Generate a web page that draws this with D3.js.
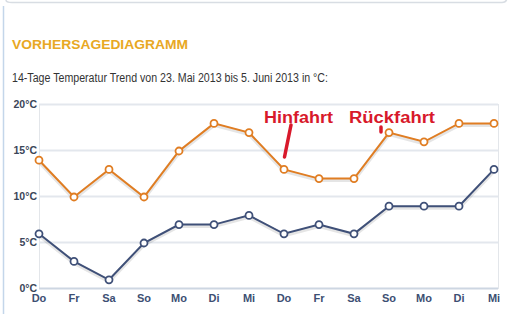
<!DOCTYPE html>
<html>
<head>
<meta charset="utf-8">
<script src="https://cdn.jsdelivr.net/npm/d3@7"></script>
<style>
  html, body { margin: 0; padding: 0; background: #fff; }
  svg { display: block; }
</style>
</head>
<body>
<div id="canvas"></div>
<script>
var days = ["Do", "Fr", "Sa", "So", "Mo", "Di", "Mi", "Do", "Fr", "Sa", "So", "Mo", "Di", "Mi"];
var maxTemps = [14, 10, 13, 10, 15, 18, 17, 13, 12, 12, 17, 16, 18, 18];
var minTemps = [6, 3, 1, 5, 7, 7, 8, 6, 7, 6, 9, 9, 9, 13];
var yTicks = [0, 5, 10, 15, 20];

var width = 512, height = 314;
var plotLeft = 39, plotRight = 494, plotTop = 105, plotBottom = 289;
var boxRight = 498;

var svg = d3.select("#canvas").append("svg").attr("width", width).attr("height", height);

// page frame
svg.append("path")
	.attr("d", "M6,0 Q6,2.5 12,2.5 L502,2.5 Q507,2.5 507,-3")
	.attr("fill", "none")
	.attr("stroke", "#d8dde3")
	.attr("stroke-width", 1.5);
svg.append("line").attr("x1", 3.5).attr("x2", 3.5).attr("y1", 6).attr("y2", height)
	.attr("stroke", "#c4d6ea").attr("stroke-width", 1.5);

svg.append("text").attr("x", 12).attr("y", 49)
	.text("VORHERSAGEDIAGRAMM")
	.attr("textLength", 176).attr("lengthAdjust", "spacingAndGlyphs")
	.style("font-family", "Liberation Sans, Arial, sans-serif")
	.style("font-weight", "bold")
	.style("font-size", "13.5px")
	.style("fill", "#e8a824");

svg.append("text").attr("x", 12).attr("y", 82)
	.text("14-Tage Temperatur Trend von 23. Mai 2013 bis 5. Juni 2013 in °C:")
	.attr("textLength", 316).attr("lengthAdjust", "spacingAndGlyphs")
	.style("font-family", "Liberation Sans, Arial, sans-serif")
	.style("font-size", "12px")
	.style("fill", "#333");

var x = d3.scalePoint().domain(d3.range(days.length)).range([plotLeft, plotRight]);
var y = d3.scaleLinear().domain([0, 20]).range([plotBottom, plotTop]);

// plot box
svg.append("rect").attr("x", plotLeft + 0.5).attr("y", plotTop - 0.5)
	.attr("width", boxRight - plotLeft).attr("height", plotBottom - plotTop)
	.attr("fill", "#fff").attr("stroke", "#e3e6ea");

svg.selectAll(".grid").data(yTicks.filter(function(d) { return d > 0; }))
	.enter().append("line")
	.attr("x1", plotLeft).attr("x2", boxRight)
	.attr("y1", function(d) { return Math.round(y(d)) - 0.5; })
	.attr("y2", function(d) { return Math.round(y(d)) - 0.5; })
	.attr("stroke", "#e3e7ed").attr("stroke-width", 2);

svg.append("line").attr("x1", plotLeft).attr("x2", boxRight)
	.attr("y1", plotBottom - 0.5).attr("y2", plotBottom - 0.5)
	.attr("stroke", "#cdd6e2").attr("stroke-width", 2);

svg.selectAll(".ylab").data(yTicks)
	.enter().append("text")
	.attr("x", 37)
	.attr("y", function(d) { return y(d) + 3; })
	.attr("text-anchor", "end")
	.text(function(d) { return d + "°C"; })
	.style("font-family", "Liberation Sans, Arial, sans-serif")
	.style("font-weight", "bold")
	.style("font-size", "10.5px")
	.style("fill", "#3b4659");

svg.selectAll(".xlab").data(days)
	.enter().append("text")
	.attr("x", function(d, i) { return x(i); })
	.attr("y", 302)
	.attr("text-anchor", "middle")
	.text(function(d) { return d; })
	.style("font-family", "Liberation Sans, Arial, sans-serif")
	.style("font-weight", "bold")
	.style("font-size", "11px")
	.style("fill", "#3d4f73");

var line = d3.line().x(function(d, i) { return x(i); }).y(function(d) { return y(d); });

var drawSeries = function(values, color) {
	svg.append("path").datum(values)
		.attr("d", line)
		.attr("transform", "translate(0,1.5)")
		.attr("fill", "none")
		.attr("stroke", "#000")
		.attr("stroke-opacity", 0.1)
		.attr("stroke-width", 4);
	svg.append("path").datum(values)
		.attr("d", line)
		.attr("fill", "none")
		.attr("stroke", color)
		.attr("stroke-width", 2);
	svg.append("g").selectAll("circle").data(values)
		.enter().append("circle")
		.attr("cx", function(d, i) { return x(i); })
		.attr("cy", function(d) { return y(d); })
		.attr("r", 3.5)
		.attr("fill", "#fff")
		.attr("stroke", color)
		.attr("stroke-width", 1.8);
};

drawSeries(maxTemps, "#e07d22");
drawSeries(minTemps, "#3f5078");

// annotations
var red = "#d8192b";
svg.append("text").attr("x", 264).attr("y", 123)
	.text("Hinfahrt")
	.attr("textLength", 69).attr("lengthAdjust", "spacingAndGlyphs")
	.style("font-family", "Liberation Sans, Arial, sans-serif")
	.style("font-weight", "bold")
	.style("font-size", "16px")
	.style("fill", red);
svg.append("line").attr("x1", 291).attr("y1", 125).attr("x2", 284.5).attr("y2", 157)
	.attr("stroke", red).attr("stroke-width", 3.5).attr("stroke-linecap", "round");

svg.append("text").attr("x", 349).attr("y", 123)
	.text("Rückfahrt")
	.attr("textLength", 86).attr("lengthAdjust", "spacingAndGlyphs")
	.style("font-family", "Liberation Sans, Arial, sans-serif")
	.style("font-weight", "bold")
	.style("font-size", "16px")
	.style("fill", red);
svg.append("line").attr("x1", 381).attr("y1", 127).attr("x2", 381).attr("y2", 132)
	.attr("stroke", red).attr("stroke-width", 3.5).attr("stroke-linecap", "round");
</script>
</body>
</html>
